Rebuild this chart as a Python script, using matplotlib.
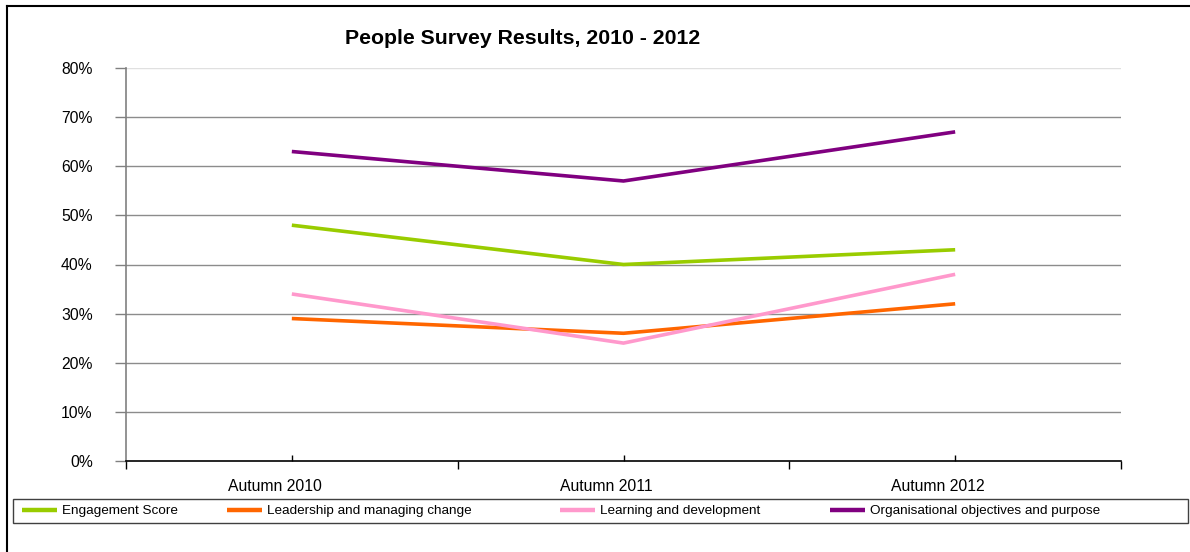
import matplotlib
matplotlib.use("Agg")
import matplotlib.pyplot as plt
from matplotlib.lines import Line2D
from matplotlib.patches import Rectangle
from matplotlib.transforms import ScaledTranslation
import numpy as np

plt.rcParams['font.family'] = ['Liberation Sans', 'DejaVu Sans']

categories = ["Autumn 2010", "Autumn 2011", "Autumn 2012"]
engagement = [48, 40, 43]
leadership = [29, 26, 32]
learning = [34, 24, 38]
organisational = [63, 57, 67]
series_names = ["Engagement Score", "Leadership and managing change",
                "Learning and development", "Organisational objectives and purpose"]
series_values = [engagement, leadership, learning, organisational]
series_colors = ["#99CC00", "#FF6600", "#FF99CC", "#800080"]
yticks = [0, 10, 20, 30, 40, 50, 60, 70, 80]

W, H = 1190, 552
fig = plt.figure(figsize=(W / 100, H / 100), dpi=100)
ax = fig.add_axes([126 / W, 1 - 461 / H, (1121 - 126) / W, (461 - 68) / H])

x = np.arange(len(categories))
handles = []
for name, vals, col in zip(series_names, series_values, series_colors):
    ax.plot(x, vals, color=col, lw=2.6, solid_capstyle='butt', zorder=3)
    handles.append(Line2D([0], [0], color=col, lw=3.2, solid_capstyle='butt'))

ax.set_xlim(-0.5, len(categories) - 0.5)
ax.set_ylim(0, 80)
ax.set_yticks(yticks)
ax.set_yticklabels([f"{v}%" for v in yticks], fontsize=11.3)
for v in yticks[1:]:
    ax.axhline(v, color="#E0E0E0" if v == 80 else "#8C8C8C", lw=1.0, zorder=1)

# category boundaries (major) and centres (minor, labelled)
ax.set_xticks(np.arange(-0.5, len(categories), 1.0))
ax.set_xticklabels([])
ax.set_xticks(x, minor=True)
ax.set_xticklabels(categories, minor=True, fontsize=11.3)
ax.tick_params(axis='x', which='minor', length=4, width=1, color="black",
               direction='in', pad=13)
ax.tick_params(axis='x', which='major', length=6, width=1, color="black", direction='out')
ax.tick_params(axis='y', length=8, width=1, color="#808080", direction='out', pad=16)
shift = ScaledTranslation(-17 / 100, 0, fig.dpi_scale_trans)
for lab in ax.xaxis.get_minorticklabels():
    lab.set_transform(lab.get_transform() + shift)

for s in ["top", "right"]:
    ax.spines[s].set_visible(False)
ax.spines["left"].set_color("#808080")
ax.spines["left"].set_linewidth(1.2)
ax.spines["bottom"].set_color("black")
ax.spines["bottom"].set_linewidth(1.2)

fig.text(523 / W, 1 - 38 / H, "People Survey Results, 2010 - 2012",
         ha="center", va="center", fontsize=15.3, fontweight="bold")

# legend: frame box plus one entry per series at Excel-like positions
fig.add_artist(Rectangle((13 / W, 1 - 523 / H), (1188 - 13) / W, 24 / H,
                         transform=fig.transFigure, fill=False,
                         edgecolor="#404040", lw=1.0))
entry_x = [22, 227, 560, 830]
for h, name, ex in zip(handles, series_names, entry_x):
    lg = fig.legend([h], [name], loc="center left",
                    bbox_to_anchor=(ex / W, 1 - 511 / H), frameon=False,
                    fontsize=9.7, handlelength=2.6, handletextpad=0.35,
                    borderpad=0, borderaxespad=0)

# outer chart border (top and left visible)
fig.add_artist(Line2D([7 / W, 7 / W], [0, 1 - 6 / H], color="black", lw=1.5,
                      transform=fig.transFigure))
fig.add_artist(Line2D([7 / W, 1], [1 - 6 / H, 1 - 6 / H], color="black", lw=1.5,
                      transform=fig.transFigure))

fig.savefig("out.png", dpi=100, facecolor="white")
